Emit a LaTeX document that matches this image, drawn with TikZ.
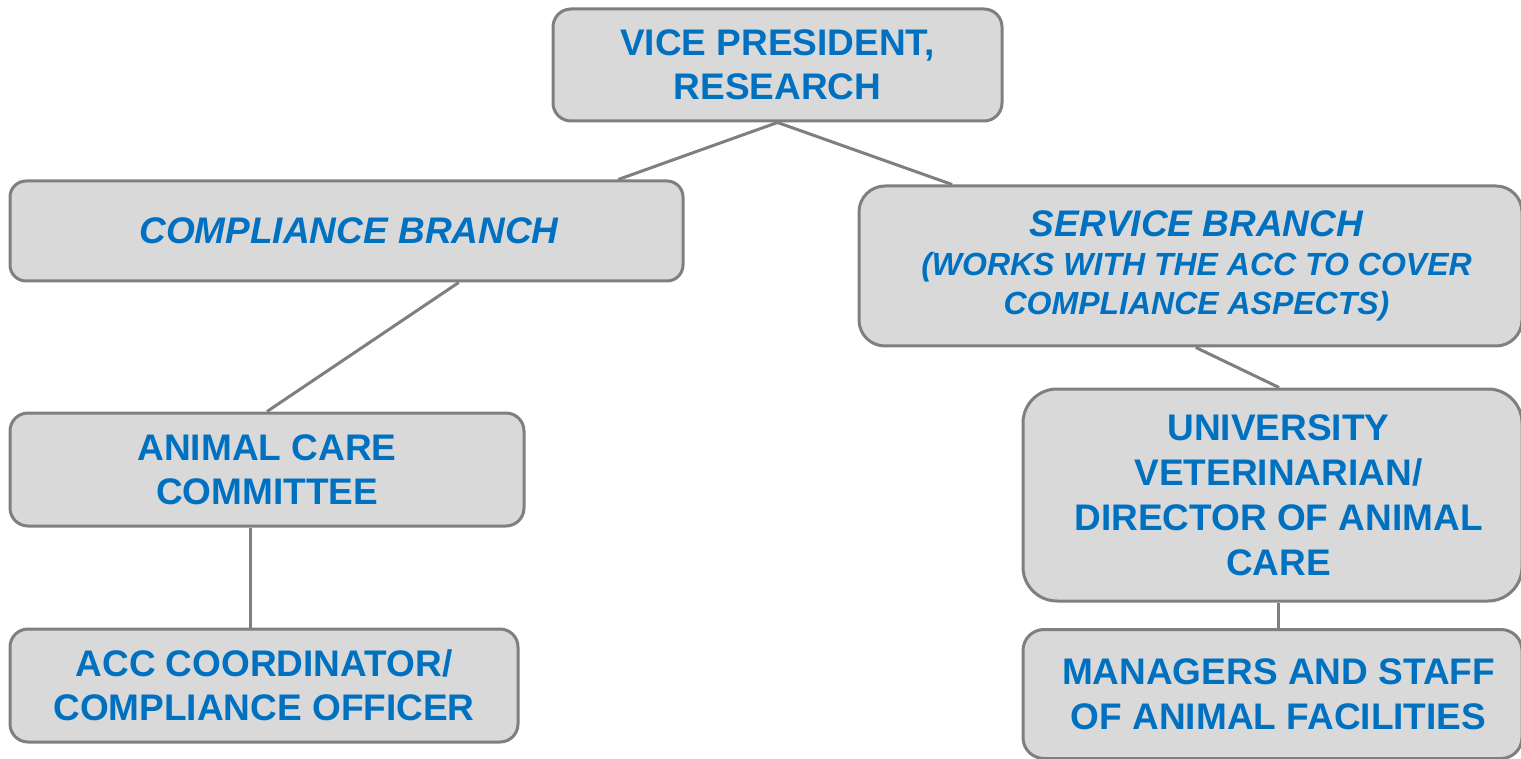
\documentclass[tikz,border=0pt]{standalone}
\usepackage{fontspec}
\setmainfont{Liberation Sans}
\usetikzlibrary{calc}
\definecolor{boxfill}{HTML}{D9D9D9}
\definecolor{boxline}{HTML}{7F7F7F}
\definecolor{txtblue}{HTML}{0070C0}
\newcommand{\rsh}{\hspace*{12pt}}
\begin{document}
\begin{tikzpicture}[x=1pt,y=-1pt,
  orgbox/.style={draw=boxline, fill=boxfill, line width=3pt, inner sep=0pt,
    align=center, text=txtblue, font=\fontsize{37}{44}\selectfont\bfseries},
  link/.style={draw=boxline, line width=3pt}]
\useasboundingbox (0,0) rectangle (1521,759);
% boxes
\node[orgbox, minimum width=449pt, minimum height=112pt, rounded corners=18pt] (vp) at (777.5,65) {VICE PRESIDENT,\\RESEARCH};
\node[orgbox, minimum width=673pt, minimum height=100pt, rounded corners=16pt, font=\fontsize{37}{44}\selectfont\bfseries\itshape] (cb) at (346.5,231) {\hspace*{5pt}COMPLIANCE BRANCH};
\node[orgbox, minimum width=663pt, minimum height=160pt, rounded corners=26pt, font=\fontsize{32}{39}\selectfont\bfseries\itshape] (sb) at (1190.5,266) {\rsh{\fontsize{37}{39}\selectfont SERVICE BRANCH}\\\rsh(WORKS WITH THE ACC TO COVER\\\rsh COMPLIANCE ASPECTS)};
\node[orgbox, minimum width=514pt, minimum height=113pt, rounded corners=18pt] (acc) at (267,469.5) {ANIMAL CARE\\COMMITTEE};
\node[orgbox, minimum width=508pt, minimum height=113pt, rounded corners=18pt] (co) at (264,685.5) {ACC COORDINATOR/\\COMPLIANCE OFFICER};
\node[orgbox, minimum width=499pt, minimum height=212pt, rounded corners=34pt, font=\fontsize{37}{45}\selectfont\bfseries] (uv) at (1272.5,495) {\rsh UNIVERSITY\\\rsh VETERINARIAN/\\\rsh DIRECTOR OF ANIMAL\\\rsh CARE};
\node[orgbox, minimum width=499pt, minimum height=129pt, rounded corners=21pt, font=\fontsize{37}{45}\selectfont\bfseries] (mg) at (1272.5,694) {\rsh MANAGERS AND STAFF\\\rsh OF ANIMAL FACILITIES};
% connectors
\coordinate (accb) at ($(acc.south west)!0.469!(acc.south east)$);
\coordinate (uvb) at ($(uv.south west)!0.511!(uv.south east)$);
\draw[link] (vp.south) -- ($(cb.north west)!0.902!(cb.north east)$);
\draw[link] (vp.south) -- ($(sb.north west)!0.142!(sb.north east)$);
\draw[link] ($(cb.south west)!0.666!(cb.south east)$) -- (acc.north);
\draw[link] (accb) -- (accb |- co.north);
\draw[link] ($(sb.south west)!0.508!(sb.south east)$) -- ($(uv.north west)!0.513!(uv.north east)$);
\draw[link] (uvb) -- (uvb |- mg.north);
\end{tikzpicture}
\end{document}
